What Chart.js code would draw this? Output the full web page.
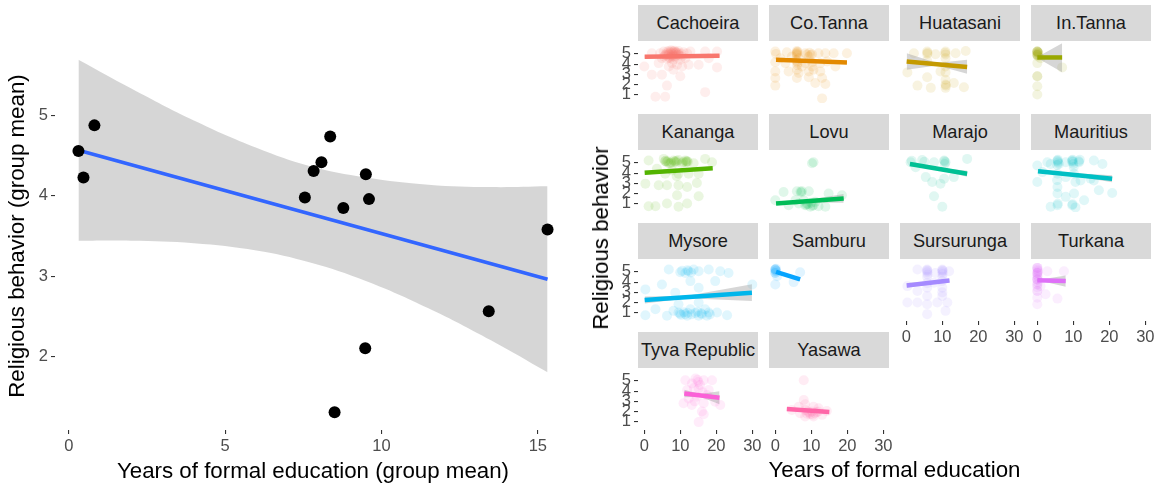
<!DOCTYPE html>
<html>
<head>
<meta charset="utf-8">
<script src="https://cdn.jsdelivr.net/npm/chart.js@4.4.1/dist/chart.umd.min.js"></script>
<style>
  body { margin: 0; background: #fff; font-family: "Liberation Sans", Arial, sans-serif; }
  #wrap { position: relative; width: 1157px; height: 487px; overflow: hidden; }
  #wrap canvas { position: absolute; }
  .strip { position: absolute; width: 120px; height: 36px; line-height: 36px; background: #d9d9d9; color: #1a1a1a; font-size: 18.2px; text-align: center; white-space: nowrap; }
  .ttl { position: absolute; color: #000; font-size: 22.3px; white-space: nowrap; transform: translate(-50%, -50%); }
</style>
</head>
<body>
<div id="wrap"></div>
<script>
// left panel: one point per site (group means)
const groupEdu = [0.31, 0.47, 0.82, 8.36, 8.08, 7.83, 7.55, 8.78, 9.50, 9.60, 15.31, 13.43, 9.48, 8.50];
const groupRel = [4.56, 4.23, 4.88, 4.74, 4.42, 4.31, 3.98, 3.85, 4.27, 3.96, 3.58, 2.56, 2.10, 1.30];
const fitX = [0.31, 15.31];
const fitY = [4.57, 2.96];
const bandX = [0.31, 2, 4, 6, 7.72, 9.5, 11.5, 13.5, 15.31];
const bandLow = [3.44, 3.44, 3.41, 3.32, 3.17, 2.94, 2.60, 2.20, 1.80];
const bandHigh = [5.70, 5.34, 4.94, 4.60, 4.37, 4.23, 4.14, 4.11, 4.12];
const leftXTicks = [0, 5, 10, 15];
const leftYTicks = [2, 3, 4, 5];

// right panel: one facet per site
const sites = ['Cachoeira', 'Co.Tanna', 'Huatasani', 'In.Tanna', 'Kananga', 'Lovu', 'Marajo', 'Mauritius',
  'Mysore', 'Samburu', 'Sursurunga', 'Turkana', 'Tyva Republic', 'Yasawa'];
const siteColors = ['#F8766D', '#E38900', '#C49A00', '#99A800', '#53B400', '#00BC56', '#00C094', '#00BFC4',
  '#00B6EB', '#06A4FF', '#A58AFF', '#DF70F8', '#FB61D7', '#FF66A8'];
const facetXTicks = [0, 10, 20, 30];
const facetYTicks = [1, 2, 3, 4, 5];

const siteFitStart = [[0.1, 4.71], [0.2, 4.42], [0.1, 4.26], [0, 4.65], [0.1, 4.03], [0.2, 1.03], [1.0, 4.90],
  [0.2, 4.19], [0.1, 2.26], [0.2, 5.00], [0.1, 3.68], [0, 4.19], [11.1, 3.77], [3.2, 2.26]];
const siteFitEnd = [[20.9, 4.81], [19.9, 4.16], [16.9, 3.71], [6.9, 4.65], [19.0, 4.48], [19.0, 1.52], [16.9, 3.94],
  [20.8, 3.45], [29.9, 2.97], [6.9, 4.26], [12.0, 4.16], [7.9, 4.10], [20.9, 3.35], [15.0, 1.97]];
// [x, lower, upper] at start, middle, end of each fit
const siteBands = [
  [[0.1, 4.64, 4.78], [10.5, 4.72, 4.80], [20.9, 4.70, 4.92]],
  [[0.2, 4.34, 4.50], [8, 4.28, 4.36], [19.9, 4.05, 4.27]],
  [[0.1, 3.45, 5.06], [8.5, 3.86, 4.10], [16.9, 3.06, 4.42]],
  [[0, 4.50, 4.80], [0.5, 4.50, 4.80], [6.9, 3.20, 6.05]],
  [[0.1, 3.85, 4.22], [9, 4.16, 4.34], [19.0, 4.30, 4.68]],
  [[0.2, 0.88, 1.20], [7.5, 1.13, 1.31], [19.0, 1.10, 1.96]],
  [[1.0, 4.72, 5.08], [8.5, 4.36, 4.54], [16.9, 3.64, 4.24]],
  [[0.2, 4.00, 4.38], [8, 3.83, 4.03], [20.8, 3.10, 3.80]],
  [[0.1, 1.92, 2.60], [12, 2.42, 2.67], [29.9, 2.15, 3.79]],
  [[0.2, 4.93, 5.07], [1.5, 4.80, 4.92], [6.9, 4.10, 4.42]],
  [[0.1, 3.45, 3.92], [7, 3.88, 4.04], [12.0, 4.00, 4.30]],
  [[0, 4.10, 4.28], [1, 4.10, 4.26], [7.9, 3.55, 4.65]],
  [[11.1, 3.40, 4.14], [15.5, 3.45, 3.71], [20.9, 2.72, 3.98]],
  [[3.2, 2.12, 2.40], [9, 2.06, 2.18], [15.0, 1.82, 2.12]]
];

// individual responses (education, religious behavior), jittered as in the picture
const cachoeira = [[5.4,5.23],[6.8,5.29],[8.1,5.23],[9.5,5.29],[10.9,5.16],[5.8,4.90],[7.5,4.84],[9.1,4.90],[10.5,4.74],
  [11.9,5.06],[4.4,5.06],[6.3,4.52],[8.1,4.42],[10.0,4.42],[11.4,4.58],[4.9,4.58],[7.7,4.10],[9.1,3.94],[6.8,3.77],
  [10.5,3.77],[8.1,3.45],[4.0,4.10],[12.3,3.94],[0,3.77],[2.1,2.97],[4.9,2.97],[10.0,2.81],[6.3,1.90],[3.1,0.81],
  [5.8,0.81],[16.9,1.26],[15.1,3.94],[20.2,3.68],[16.9,5.23],[20.2,5.23],[12.8,5.23],[2.1,5.06],[17.9,4.58],
  [6.3,5.23],[7.7,5.06],[8.6,4.74],[7.2,4.58],[9.5,5.06],[5.4,4.74],[6.8,4.97],[8.1,4.90],[7.2,5.16],[8.8,5.10],
  [6.0,5.00],[9.8,4.85],[7.5,4.70],[8.4,5.30],[6.6,5.10],[7.0,4.95],[7.8,5.25],[8.3,5.05],[9.0,5.15],[9.3,4.95],
  [6.1,4.85],[7.4,5.35],[8.6,5.20],[10.2,5.05],[6.9,4.65],[8.0,4.75]];
const coTanna = [[0,5.23],[3.2,5.16],[6.0,5.29],[6.0,4.90],[8.3,5.06],[10.2,4.97],[12.0,5.06],[13.9,5.06],[16.2,5.06],
  [19.9,5.06],[0,4.19],[2.8,4.10],[6.0,4.26],[8.3,4.10],[10.2,4.19],[12.5,4.10],[16.7,3.77],[0,3.29],[3.7,3.29],
  [6.0,3.45],[9.3,3.29],[10.6,3.45],[12.5,3.29],[0,2.65],[6.0,2.65],[9.3,2.71],[13.0,2.65],[0,1.90],[11.1,2.16],
  [13.9,2.06],[13.0,0.65],[6.0,5.06],[6.5,4.58],[9.3,4.74],[4.6,4.74],[7.4,3.77],[10.2,3.77],[1.4,4.58],[14.4,4.26],
  [6.5,3.13],[6.2,5.20],[5.8,4.40],[9.8,4.90],[6.1,3.90],[6.0,5.15],[5.9,5.00],[9.5,5.10],[8.8,4.95],[0.2,5.00],
  [6.2,4.10]];
const huatasani = [[5.8,5.23],[10.9,5.23],[13.7,5.06],[16.5,5.29],[8.1,4.97],[2.1,5.06],[10.9,4.58],[5.8,4.32],
  [0.3,3.19],[5.8,2.71],[10.9,3.19],[9.5,3.29],[3.1,1.90],[6.8,1.68],[10.9,2.00],[13.2,2.16],[16.0,1.74],[10.9,1.68],
  [10.9,2.48],[10.9,3.77],[10.8,5.10],[5.9,5.10],[10.9,4.95],[11.0,1.90],[5.8,5.00]];
const inTanna = [[0,5.23],[0,5.23],[0,5.23],[0,5.23],[0,4.90],[0,4.90],[0,4.90],[0,4.10],[0,2.81],[0,2.81],[0,1.84],
  [0,1.03],[6.9,3.68],[0.9,4.58],[0.3,5.10],[0.2,4.75],[0.1,5.15],[0.2,5.00],[0,5.05]];
const kananga = [[5.8,5.16],[8.6,5.16],[11.9,5.16],[7.2,4.97],[10.5,4.97],[13.7,4.97],[1.2,5.23],[16.9,5.39],[18.8,5.06],
  [5.4,5.39],[9.5,5.29],[5.8,3.94],[9.5,3.94],[12.3,3.94],[15.1,3.94],[7.7,4.26],[3.5,4.42],[0.3,2.97],[4.0,2.81],
  [6.3,2.81],[9.5,2.81],[11.9,2.65],[14.6,3.03],[9.1,1.84],[15.1,1.74],[1.2,0.77],[3.1,0.77],[6.3,1.03],[9.5,0.71],
  [11.9,1.03],[6.8,4.97],[8.1,5.23],[11.4,5.23],[6.2,5.10],[8.9,5.05],[11.6,5.05],[9.0,3.70],[5.9,5.20],[6.5,5.15],
  [8.4,5.10],[9.0,5.20],[11.7,5.15],[12.1,5.10],[7.5,5.05],[10.8,5.10]];
const lovu = [[10.6,5.06],[10.2,4.97],[2.3,2.16],[6.0,2.23],[7.4,2.23],[9.3,2.23],[14.8,2.00],[18.5,1.84],[6.5,1.03],
  [8.3,0.87],[10.6,0.87],[12.0,0.77],[5.6,1.35],[0,1.35],[7.9,1.35],[11.1,1.19],[13.9,0.71],[3.7,0.87],[9.7,0.71],
  [8.8,1.00],[10.0,1.10],[7.2,2.10],[8.6,0.90],[10.3,0.80],[9.1,0.95],[7.0,2.20]];
const marajo = [[1.2,5.06],[4.4,5.29],[7.7,5.06],[10.9,5.06],[10.5,5.23],[16.9,5.39],[5.4,3.61],[10.5,3.45],[7.2,3.13],
  [13.2,3.61],[9.5,2.97],[7.7,1.74],[10.0,0.71],[2.6,4.58],[10.7,4.90],[5.0,5.10],[10.6,5.15],[1.5,5.20]];
const mauritius = [[5.6,5.23],[6.0,4.90],[9.7,5.23],[11.6,5.06],[15.7,5.23],[3.7,4.90],[7.9,5.06],[0,4.74],[18.1,4.90],
  [2.8,5.06],[5.6,3.94],[10.2,3.94],[12.0,3.29],[15.7,3.29],[10.6,3.13],[7.9,3.61],[5.6,2.65],[5.6,2.00],[10.2,2.00],
  [13.0,1.35],[17.1,2.32],[20.8,2.06],[0,3.13],[3.7,0.71],[5.6,0.87],[9.7,0.87],[10.6,0.65],[7.9,1.68],[14.8,3.45],
  [1.4,4.10],[5.7,5.30],[9.9,5.10],[11.8,5.30],[5.5,3.30],[10.1,4.60],[5.6,5.15],[5.8,5.05],[9.6,5.15],[9.8,5.30],
  [11.5,5.15],[5.5,4.80],[10.0,4.90],[5.7,1.00],[9.8,0.95]];
const mysore = [[6.8,5.23],[10.0,4.97],[12.3,5.06],[15.1,5.06],[17.9,5.23],[21.1,5.06],[23.4,4.90],[11.4,4.90],
  [13.7,5.23],[4.9,3.77],[19.7,4.10],[30.0,3.77],[0.3,3.29],[15.1,3.45],[8.6,2.97],[12.8,4.10],[9.5,1.03],[11.4,0.87],
  [14.2,0.97],[16.0,0.87],[17.9,1.03],[20.2,1.03],[6.3,0.71],[0.3,0.77],[23.0,0.77],[3.1,1.35],[9.5,1.84],[15.1,2.00],
  [12.8,1.35],[16.9,1.35],[8.1,1.19],[11.9,0.71],[15.1,0.71],[17.4,0.71],[12.0,1.00],[14.8,1.10],[10.2,0.80],
  [12.0,5.15],[13.0,4.95],[10.5,5.10],[9.9,0.90],[13.1,0.85],[15.8,0.95],[18.2,0.85],[11.0,1.05]];
const samburu = [[0,5.23],[0,5.23],[0,5.23],[0,4.90],[0,4.90],[0.5,4.58],[6.9,4.97],[5.1,4.00],[0,3.77],[0.2,5.10],
  [0.1,5.05],[0.2,5.30]];
const sursurunga = [[5.8,5.23],[5.8,4.97],[10.0,5.23],[10.0,4.97],[11.9,5.06],[3.1,5.23],[5.8,4.52],[10.0,4.52],
  [5.8,3.45],[10.0,3.45],[3.1,3.13],[0.3,3.61],[5.8,2.65],[10.0,2.65],[0.3,2.00],[3.1,2.00],[5.8,1.84],[8.6,2.00],
  [11.4,2.00],[5.8,0.87],[10.9,1.19],[7.7,3.94],[8.1,4.90],[5.9,5.10],[10.1,5.10],[10.0,3.00],[5.7,5.15],[10.0,5.15],
  [5.9,4.75],[10.1,4.80],[5.8,3.90],[9.9,4.10]];
const turkana = [[0,5.39],[0,5.39],[0,5.39],[0,4.90],[0,4.90],[0,4.90],[0,4.26],[0,4.26],[0,4.26],[0,3.77],[0,3.77],
  [0,3.13],[0,3.13],[0,2.48],[0,1.84],[2.8,5.06],[7.4,5.06],[5.6,2.39],[2.3,2.81],[0.9,3.61],[0.2,5.10],[0.1,4.60],
  [0,5.20],[0,4.70],[0.1,4.00],[0,3.50],[0.2,5.00],[0,4.45]];
const tyva = [[11.4,5.06],[14.2,5.23],[16.5,5.06],[18.8,5.06],[13.2,4.74],[15.1,4.26],[17.9,4.10],[11.9,4.10],
  [10.9,2.81],[13.2,2.65],[16.5,2.81],[19.7,2.97],[21.1,2.65],[16.0,2.00],[16.5,1.74],[15.1,0.97],[12.3,3.29],
  [14.6,3.45],[17.4,3.61],[15.0,4.90],[16.2,3.90],[14.0,3.00],[14.8,5.10],[15.5,4.60],[13.8,4.30]];
const yasawa = [[7.9,5.06],[7.9,3.13],[8.3,2.71],[6.5,2.48],[10.6,2.48],[4.6,2.16],[8.3,2.16],[10.2,2.00],[12.0,2.00],
  [14.3,2.06],[6.9,1.84],[13.0,1.68],[8.3,1.52],[10.6,1.52],[9.7,1.74],[12.0,2.32],[9.0,2.00],[11.0,1.85],[9.5,1.90],
  [10.4,1.70],[8.8,1.80],[11.5,1.95]];
const sitePoints = [cachoeira, coTanna, huatasani, inTanna, kananga, lovu, marajo, mauritius,
  mysore, samburu, sursurunga, turkana, tyva, yasawa];

Chart.defaults.font.family = '"Liberation Sans", Arial, sans-serif';
const wrap = document.getElementById('wrap');
const tickFont = { size: 16.5 };
const tickColor = '#4d4d4d';
const titleFont = { size: 22.3 };
const tickGrid = { display: true, drawOnChartArea: false, drawTicks: true, tickLength: 4, color: '#333333', lineWidth: 1.1 };

function addCanvas(left, top, w, h) {
    const c = document.createElement('canvas');
    c.width = w; c.height = h;
    c.style.left = left + 'px'; c.style.top = top + 'px';
    c.style.width = w + 'px'; c.style.height = h + 'px';
    wrap.appendChild(c);
    return c;
}
function addText(cls, text, left, top, extra) {
    const d = document.createElement('div');
    d.className = cls;
    d.textContent = text;
    d.style.left = left + 'px'; d.style.top = top + 'px';
    if (extra) Object.assign(d.style, extra);
    wrap.appendChild(d);
}
function rgba(hex, a) {
    const n = parseInt(hex.slice(1), 16);
    return 'rgba(' + (n >> 16) + ',' + ((n >> 8) & 255) + ',' + (n & 255) + ',' + a + ')';
}
const pairs = (xs, ys) => xs.map((x, i) => ({ x: x, y: ys[i] }));

// ---- left chart
new Chart(addCanvas(0, 0, 585, 487), {
    type: 'scatter',
    data: {
        datasets: [
            { type: 'line', data: pairs(bandX, bandHigh), borderWidth: 0, pointRadius: 0, fill: false, tension: 0.4, order: 3 },
            { type: 'line', data: pairs(bandX, bandLow), borderWidth: 0, pointRadius: 0, fill: '-1',
              backgroundColor: 'rgba(153,153,153,0.4)', tension: 0.4, order: 2 },
            { type: 'line', data: pairs(fitX, fitY), borderColor: '#3366FF', borderWidth: 3.5, pointRadius: 0, fill: false, order: 1 },
            { data: pairs(groupEdu, groupRel), backgroundColor: '#000', borderWidth: 0, pointRadius: 6, order: 0 }
        ]
    },
    options: {
        responsive: false, animation: false, events: [],
        layout: { padding: { top: 42, right: 14, bottom: 0, left: 0 } },
        plugins: { legend: { display: false }, tooltip: { enabled: false } },
        scales: {
            x: {
                type: 'linear', min: -0.44, max: 16.06,
                afterBuildTicks: a => { a.ticks = leftXTicks.map(v => ({ value: v })); },
                afterFit: s => { s.height = 57; },
                ticks: { font: tickFont, color: tickColor, padding: 3 },
                grid: tickGrid, border: { display: false },
                title: { display: true, text: 'Years of formal education (group mean)', color: '#000',
                         font: titleFont, padding: { top: 0, bottom: 2 } }
            },
            y: {
                type: 'linear', min: 1.08, max: 5.92,
                afterBuildTicks: a => { a.ticks = leftYTicks.map(v => ({ value: v })); },
                afterFit: s => { s.width = 55; },
                ticks: { font: tickFont, color: tickColor, padding: 3 },
                grid: tickGrid, border: { display: false },
                title: { display: true, text: 'Religious behavior (group mean)', color: '#000',
                         font: titleFont, padding: { top: 4.5, bottom: 0 } }
            }
        }
    }
});

// ---- facets
const M = 14;
sites.forEach((name, i) => {
    const col = i % 4, row = Math.floor(i / 4);
    const showY = col === 0;
    const showX = (col < 2 && row === 3) || (col >= 2 && row === 2);
    const panelL = 638 + 131 * col, panelT = 41 + 109 * row;
    const yw = showY ? 26 : 0, xh = showX ? 26 : 0;
    addText('strip', name, panelL, panelT - 36);
    const band = siteBands[i];
    const color = siteColors[i];
    new Chart(addCanvas(panelL - yw - M, panelT - M, yw + 120 + 2 * M, 62 + xh + 2 * M), {
        type: 'scatter',
        data: {
            datasets: [
                { data: sitePoints[i].map(p => ({ x: p[0], y: p[1] })), backgroundColor: rgba(color, 0.12),
                  borderWidth: 0, pointRadius: 5, clip: 0, order: 3 },
                { type: 'line', data: band.map(b => ({ x: b[0], y: b[2] })), borderWidth: 0, pointRadius: 0, fill: false, clip: 0, order: 2 },
                { type: 'line', data: band.map(b => ({ x: b[0], y: b[1] })), borderWidth: 0, pointRadius: 0, fill: '-1',
                  backgroundColor: 'rgba(153,153,153,0.4)', clip: 0, order: 1 },
                { type: 'line', data: [siteFitStart[i], siteFitEnd[i]].map(p => ({ x: p[0], y: p[1] })),
                  borderColor: color, borderWidth: 4.5, pointRadius: 0, fill: false, clip: 0, order: 0 }
            ]
        },
        options: {
            responsive: false, animation: false, events: [],
            layout: { padding: M },
            plugins: { legend: { display: false }, tooltip: { enabled: false } },
            scales: {
                x: {
                    type: 'linear', min: -1.75, max: 31.58, display: showX,
                    afterBuildTicks: a => { a.ticks = facetXTicks.map(v => ({ value: v })); },
                    afterFit: s => { s.height = xh; },
                    ticks: { font: tickFont, color: tickColor, padding: 3, maxRotation: 0, autoSkip: false },
                    grid: tickGrid, border: { display: false }
                },
                y: {
                    type: 'linear', min: 0.2, max: 6.26, display: showY,
                    afterBuildTicks: a => { a.ticks = facetYTicks.map(v => ({ value: v })); },
                    afterFit: s => { s.width = yw; },
                    ticks: { font: tickFont, color: tickColor, padding: 3, autoSkip: false },
                    grid: tickGrid, border: { display: false }
                }
            }
        }
    });
});

addText('ttl', 'Religious behavior', 601, 238, { transform: 'translate(-50%, -50%) rotate(-90deg)' });
addText('ttl', 'Years of formal education', 894.5, 470);
</script>
</body>
</html>
